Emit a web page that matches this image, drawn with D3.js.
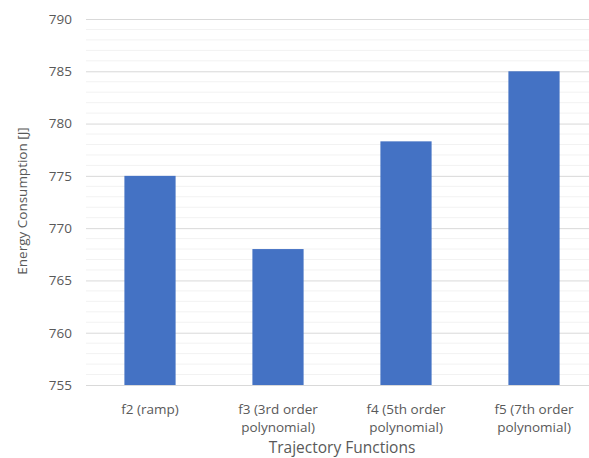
<!DOCTYPE html>
<html>
<head>
<meta charset="utf-8">
<script src="https://cdn.jsdelivr.net/npm/d3@7"></script>
<style>
  body { margin: 0; background: #fff; }
  svg text { font-family: "Open Sans", Lato, sans-serif; fill: #595959; }
</style>
</head>
<body>
<div id="chart"></div>
<script>
var categories = ["f2 (ramp)", "f3 (3rd order polynomial)", "f4 (5th order polynomial)", "f5 (7th order polynomial)"];
var labelLines = [["f2 (ramp)"], ["f3 (3rd order", "polynomial)"], ["f4 (5th order", "polynomial)"], ["f5 (7th order", "polynomial)"]];
var energy = [775.0, 768.0, 778.3, 785.0];
var yTicks = [755, 760, 765, 770, 775, 780, 785, 790];
var minorTicks = d3.range(755, 791, 1);

var width = 589, height = 458;
var margin = { top: 19, right: -9, bottom: 73, left: 86 };
var innerW = width - margin.left - margin.right;
var innerH = height - margin.top - margin.bottom;

var svg = d3.select("#chart").append("svg")
    .attr("width", width)
    .attr("height", height);

var g = svg.append("g")
    .attr("transform", "translate(" + margin.left + "," + margin.top + ")");

var x = d3.scaleBand()
    .domain(categories)
    .range([0, innerW])
    .paddingInner(0.6)
    .paddingOuter(0.3);

var y = d3.scaleLinear()
    .domain([755, 790])
    .range([innerH, 0]);

// minor gridlines
g.selectAll(".minor")
    .data(minorTicks.filter(d => d % 5 !== 0))
    .enter().append("line")
    .attr("x1", 0).attr("x2", innerW)
    .attr("y1", d => y(d)).attr("y2", d => y(d))
    .attr("stroke", "#f2f2f2")
    .attr("stroke-width", 1);

// major gridlines
g.append("g")
    .call(d3.axisLeft(y).tickValues(yTicks).tickSize(-innerW).tickFormat(""))
    .call(s => s.select(".domain").remove())
    .selectAll("line")
    .attr("stroke", "#d9d9d9");

// y tick labels
g.append("g")
    .attr("transform", "translate(-14,0)")
    .call(d3.axisLeft(y).tickValues(yTicks).tickSize(0).tickPadding(0))
    .call(s => s.select(".domain").remove())
    .selectAll("text")
    .style("font-family", "'Open Sans', sans-serif")
    .style("font-size", "13.5px")
    .style("fill", "#595959");

g.selectAll(".bar")
    .data(energy)
    .enter().append("rect")
    .attr("class", "bar")
    .attr("x", (d, i) => x(categories[i]))
    .attr("y", d => y(d))
    .attr("width", x.bandwidth())
    .attr("height", d => innerH - y(d))
    .attr("fill", "#4472c4");

// x category labels
var xl = g.append("g")
    .attr("transform", "translate(0," + innerH + ")")
    .call(d3.axisBottom(x).tickSize(0).tickFormat(""));
xl.select(".domain").attr("stroke", "#d9d9d9");
xl.selectAll(".tick").each(function(d, i) {
    var t = d3.select(this).append("text")
        .attr("text-anchor", "middle")
        .style("font-size", "13.5px")
        .style("fill", "#595959");
    labelLines[i].forEach(function(line, j) {
        t.append("tspan").attr("x", 0).attr("y", 29 + j * 17.5).text(line);
    });
});

g.append("text")
    .attr("x", 256)
    .attr("y", innerH + 68)
    .attr("text-anchor", "middle")
    .style("font-size", "15.5px")
    .text("Trajectory Functions");

g.append("text")
    .attr("transform", "rotate(-90)")
    .attr("x", -182)
    .attr("y", -59)
    .attr("text-anchor", "middle")
    .style("font-size", "13.5px")
    .text("Energy Consumption [J]");
</script>
</body>
</html>
